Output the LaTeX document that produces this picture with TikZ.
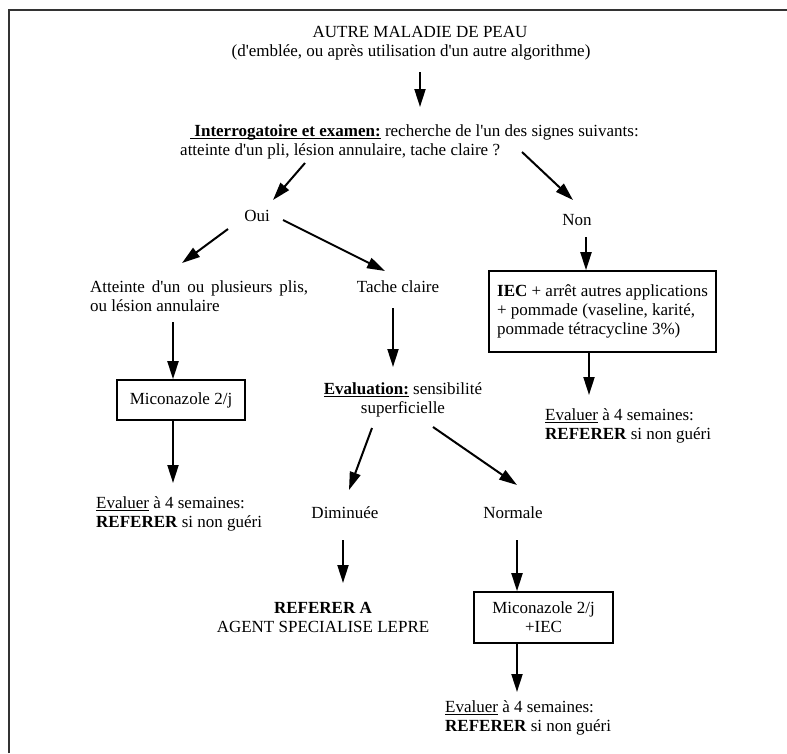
\documentclass[tikz,border=0pt]{standalone}
\usepackage{fontspec}
\setmainfont{Liberation Serif}
\usetikzlibrary{arrows.meta}

\newcommand{\apos}{\textquotesingle}
\newcommand{\undl}[1]{\setbox0\hbox{#1}\rlap{\rule[-2.6pt]{\wd0}{0.9pt}}\box0\relax}

\begin{document}
\begin{tikzpicture}[x=1pt,y=-1pt,
  every node/.style={inner sep=0pt,font=\fontsize{17}{19}\selectfont},
  txtblock/.style={anchor=west,align=left},
  treatbox/.style={draw,line width=1.6pt},
  arr/.style={line width=2pt,-{Triangle[length=18pt,width=11pt]}}]

\useasboundingbox (0,0) rectangle (787,753);

%FRAME
\draw[line width=2pt,black!80] (9,753) -- (9,10) -- (787,10);

%TOP
\node (title) at (420,32) {AUTRE MALADIE DE PEAU};
\node (sub) at (411,52) {(d\apos emblée, ou après utilisation d\apos un autre algorithme)};
\node[txtblock] (quest) at (180,142) {\hspace*{10pt}\textbf{\undl{\ Interrogatoire et examen:}} recherche de l\apos un des signes suivants:\\atteinte d\apos un pli, lésion annulaire, tache claire ?};

\node (oui) at (257,216) {Oui};
\node (non) at (577,220) {Non};

%LEFT BRANCH
\node[txtblock,text width=218pt,align=justify] (plis) at (90,296.5) {Atteinte d\apos un ou plusieurs plis,\linebreak ou lésion annulaire};
\node[treatbox,minimum width=128,minimum height=40] (mico) at (181,400) {Miconazole 2/j};
\node[txtblock] (evalL) at (96,514) {\undl{Evaluer} à 4 semaines:\\\textbf{REFERER} si non guéri};

%MIDDLE BRANCH
\node (tache) at (398,287) {Tache claire};
\node[align=center] (sens) at (403,400) {\textbf{\undl{Evaluation:}} sensibilité\\superficielle};
\node (dimin) at (345,513) {Diminuée};
\node (norm) at (513,513) {Normale};
\node[align=center] (lepre) at (323,617) {\textbf{REFERER A}\\AGENT SPECIALISE LEPRE};
\node[treatbox,align=center,minimum width=139,minimum height=51] (micoiec) at (543.5,617.5) {Miconazole 2/j\\+IEC};
\node[txtblock] (evalB) at (445,717.5) {\undl{Evaluer} à 4 semaines:\\\textbf{REFERER} si non guéri};

%RIGHT BRANCH
\node[treatbox,align=left,inner xsep=8pt,minimum width=227,minimum height=81] (iec) at (602.5,311.5) {\textbf{IEC} + arrêt autres applications\\+ pommade (vaseline, karité,\\pommade tétracycline 3\%)};
\node[txtblock] (evalR) at (545,426) {\undl{Evaluer} à 4 semaines:\\\textbf{REFERER} si non guéri};

%ARROW ENDS
\coordinate (sub-s) at (420,72);   \coordinate (quest-n) at (420,107);
\coordinate (quest-l) at (305,163); \coordinate (oui-n) at (273,200);
\coordinate (quest-r) at (522,152); \coordinate (non-n) at (573,200);
\coordinate (oui-l) at (228,229);  \coordinate (plis-n) at (182,263);
\coordinate (oui-r) at (283,220);  \coordinate (tache-n) at (385,271);
\coordinate (plis-s) at (173,322); \coordinate (tache-s) at (393,308);
\coordinate (sens-n) at (393,367); \coordinate (evalL-n) at (173,483);
\coordinate (sens-l) at (372,428); \coordinate (dimin-n) at (349,490);
\coordinate (sens-r) at (433,427); \coordinate (norm-n) at (517,485);
\coordinate (dimin-s) at (343,540); \coordinate (lepre-n) at (343,583);
\coordinate (norm-s) at (517,540);  \coordinate (evalB-n) at (517,692);
\coordinate (non-s) at (586,237);  \coordinate (evalR-n) at (589,395);

%ARROWS
\draw[arr] (sub-s) -- (quest-n);
\draw[arr] (quest-l) -- (oui-n);
\draw[arr] (quest-r) -- (non-n);
\draw[arr] (oui-l) -- (plis-n);
\draw[arr] (oui-r) -- (tache-n);
\draw[arr] (plis-s) -- (plis-s |- mico.north);
\draw[arr] (plis-s |- mico.south) -- (evalL-n);
\draw[arr] (tache-s) -- (sens-n);
\draw[arr] (sens-l) -- (dimin-n);
\draw[arr] (sens-r) -- (norm-n);
\draw[arr] (dimin-s) -- (lepre-n);
\draw[arr] (norm-s) -- (norm-s |- micoiec.north);
\draw[arr] (norm-s |- micoiec.south) -- (evalB-n);
\draw[arr] (non-s) -- (non-s |- iec.north);
\draw[arr] (evalR-n |- iec.south) -- (evalR-n);

\end{tikzpicture}
\end{document}
